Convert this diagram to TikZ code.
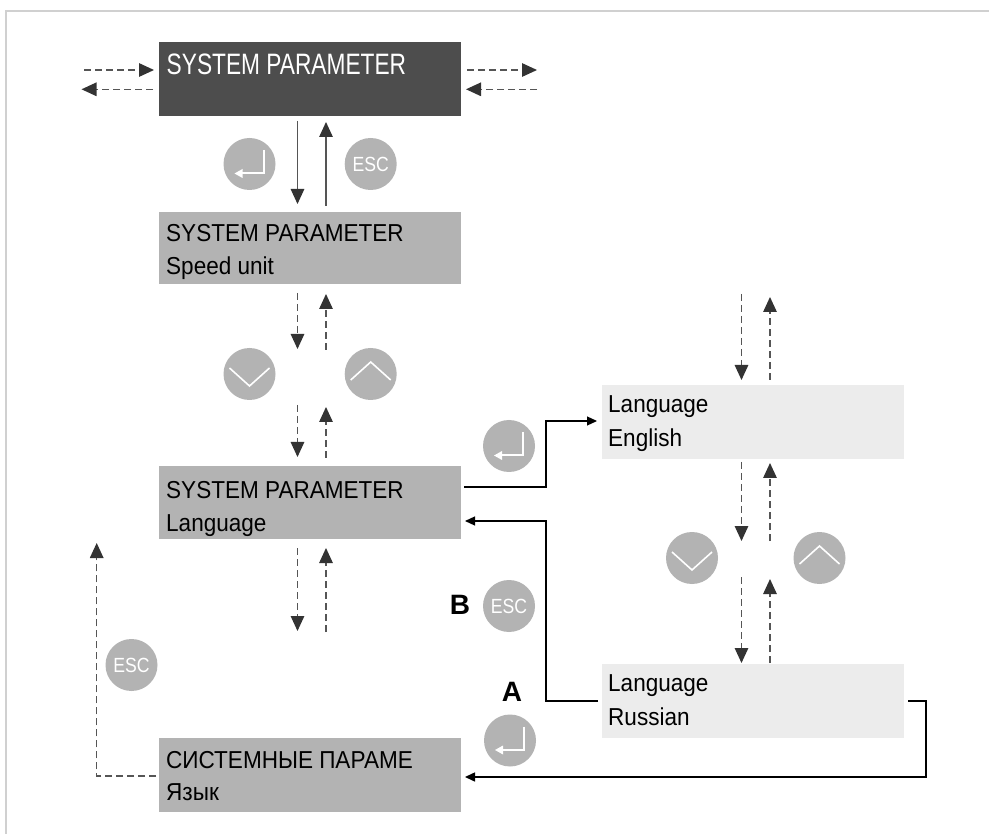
\documentclass[tikz,border=0pt]{standalone}
\usepackage{fontspec}
\setmainfont{Liberation Sans}
\newfontfamily\boxfont{Liberation Sans}[FakeStretch=0.92]
\newfontfamily\darkfont{Liberation Sans}[FakeStretch=0.77]
\newfontfamily\keyfont{Liberation Sans}[FakeStretch=0.86]
\usetikzlibrary{arrows.meta,calc}
\definecolor{darkfill}{HTML}{4D4D4D}
\definecolor{midfill}{HTML}{B3B3B3}
\definecolor{lightfill}{HTML}{ECECEC}
\definecolor{framec}{HTML}{D0D0D0}
\definecolor{linec}{HTML}{555555}
\definecolor{tipc}{HTML}{333333}
\newcommand\entericon[1]{%
  \begin{scope}[shift={(#1.center)}]
    \draw[icon] (14,-14) -- (14,9.5) -- (-8,9.5);
    \fill[white] (-15,9.5) -- (-7,5) -- (-7,14) -- cycle;
  \end{scope}}
\newcommand\downicon[1]{%
  \begin{scope}[shift={(#1.center)}]
    \draw[chev] (-20,-6) -- (0,12) -- (20,-6);
  \end{scope}}
\newcommand\upicon[1]{%
  \begin{scope}[shift={(#1.center)}]
    \draw[chev] (-20,6) -- (0,-12) -- (20,6);
  \end{scope}}
\begin{document}
\begin{tikzpicture}[x=1pt,y=-1pt,
  panel/.style={draw=none, minimum width=302pt, minimum height=74pt, inner sep=0pt, outer sep=0pt},
  darkpanel/.style={panel, fill=darkfill},
  midpanel/.style={panel, fill=midfill},
  lightpanel/.style={panel, fill=lightfill},
  txt/.style={anchor=base west, inner sep=0pt, font=\boxfont\fontsize{24.5}{30}\selectfont},
  keyc/.style={circle, fill=midfill, minimum size=52pt, inner sep=0pt},
  esckey/.style={keyc, text=white, font=\keyfont\fontsize{20.5}{22}\selectfont},
  solidarrow/.style={draw=linec, line width=1.3pt, -{Triangle[length=15pt,width=13.5pt,color=tipc]}},
  dashedarrow/.style={draw=linec, line width=1.3pt, dash pattern=on 7pt off 4pt, -{Triangle[length=15pt,width=13.5pt,color=tipc]}},
  conn/.style={draw=black, line width=1.2pt, -{Triangle[length=10pt,width=9pt]}},
  icon/.style={white, line width=2pt},
  chev/.style={white, line width=1.6pt},
  bigletter/.style={font=\bfseries\fontsize{28}{30}\selectfont, inner sep=0pt}
]
\useasboundingbox (0,0) rectangle (989,834);
\fill[white] (0,0) rectangle (989,834);
\draw[framec, line width=1.5pt] (6,834) -- (6,11) -- (989,11);

% panels
\node[darkpanel] (sys) at (310,79) {};
\node[txt, text=white, font=\darkfont\fontsize{29.5}{30}\selectfont] (systxt) at (166.5,74.3) {SYSTEM PARAMETER};
\node[midpanel, minimum height=72pt] (speed) at (310,248) {};
\node[txt] (speedt1) at (166,242) {SYSTEM PARAMETER};
\node[txt] (speedt2) at (166,275) {Speed unit};
\node[midpanel, minimum height=73pt] (lang) at (310,502.5) {};
\node[txt] (langt1) at (166,498) {SYSTEM PARAMETER};
\node[txt] (langt2) at (166,531.5) {Language};
\node[midpanel] (ru) at (310,775) {};
\node[txt] (rut1) at (166,768.3) {СИСТЕМНЫЕ ПАРАМЕ};
\node[txt] (rut2) at (166,800) {Язык};
\node[lightpanel] (en) at (753,422) {};
\node[txt] (ent1) at (608,413) {Language};
\node[txt] (ent2) at (608,446.5) {English};
\node[lightpanel] (rus) at (753,701) {};
\node[txt] (rust1) at (608,691.7) {Language};
\node[txt] (rust2) at (608,725) {Russian};

% keys
\node[keyc] (ent1k) at (249.5,164) {};
\entericon{ent1k}
\node[esckey] (esc1k) at (370.7,164) {ESC};
\node[keyc] (dn1k) at (249.5,374) {};
\downicon{dn1k}
\node[keyc] (up1k) at (370.7,374) {};
\upicon{up1k}
\node[keyc] (ent2k) at (509,446) {};
\entericon{ent2k}
\node[esckey] (esc2k) at (509,606) {ESC};
\node[keyc] (ent3k) at (510,740.5) {};
\entericon{ent3k}
\node[esckey] (esc3k) at (131.5,665) {ESC};
\node[keyc] (dn2k) at (692,558) {};
\downicon{dn2k}
\node[keyc] (up2k) at (819.5,558) {};
\upicon{up2k}

\node[bigletter] (B) at (460,605) {B};
\node[bigletter] (A) at (512,692) {A};

% side arrows of top panel
\coordinate (lin) at (84,70);
\coordinate (lout) at (81.5,89.3);
\coordinate (rout) at (537,70);
\coordinate (rin) at (537,89.3);
\draw[dashedarrow] (lin) -- ([xshift=-5pt]lin -| sys.west);
\draw[dashedarrow] ([xshift=-6pt]lout -| sys.west) -- (lout);
\draw[dashedarrow] ([xshift=6pt]rout -| sys.east) -- (rout);
\draw[dashedarrow] (rin) -- ([xshift=5pt]rin -| sys.east);

% left column verticals
\coordinate (cdn) at (297.5,0);
\coordinate (cup) at (326,0);
\draw[solidarrow] ([yshift=-5pt]sys.south -| cdn) -- ([yshift=8pt]speed.north -| cdn);
\draw[solidarrow] ([yshift=6pt]speed.north -| cup) -- ([yshift=-6pt]sys.south -| cup);

\coordinate (m1d) at (297.5,349);
\coordinate (m1u) at (326,350);
\draw[dashedarrow] ([yshift=-9pt]speed.south -| cdn) -- (m1d);
\draw[dashedarrow] (m1u) -- ([yshift=-10pt]speed.south -| cup);
\coordinate (m2d) at (297.5,405);
\coordinate (m2u) at (326,407);
\draw[dashedarrow] (m2d) -- ([yshift=9pt]lang.north -| cdn);
\draw[dashedarrow] ([yshift=8pt]lang.north -| cup) -- (m2u);
\coordinate (m3d) at (297.5,631);
\coordinate (m3u) at (326,632);
\draw[dashedarrow] ([yshift=-9pt]lang.south -| cdn) -- (m3d);
\draw[dashedarrow] (m3u) -- ([yshift=-9pt]lang.south -| cup);

% right column verticals
\coordinate (rdn) at (741.5,0);
\coordinate (rup) at (770,0);
\coordinate (t1d) at (741.5,294);
\coordinate (t1u) at (770,297);
\draw[dashedarrow] (t1d) -- ([yshift=5pt]en.north -| rdn);
\draw[dashedarrow] ([yshift=5pt]en.north -| rup) -- (t1u);
\coordinate (t2d) at (741.5,541);
\coordinate (t2u) at (770,463);
\draw[dashedarrow] ([yshift=-3pt]en.south -| rdn) -- (t2d);
\draw[dashedarrow] (t2d -| rup) -- (t2u);
\coordinate (t3d) at (741.5,577);
\coordinate (t3u) at (770,579);
\draw[dashedarrow] (t3d) -- ([yshift=1pt]rus.north -| rdn);
\draw[dashedarrow] ([yshift=1pt]rus.north -| rup) -- (t3u);

% connectors
\coordinate (j1) at (546,487);
\coordinate (j2) at (546,421);
\draw[conn] ([xshift=3pt]j1 -| lang.east) -- (j1) -- (j2) -- ([xshift=-5pt]j2 -| en.west);
\coordinate (j3) at (546,701);
\coordinate (j4) at (546,521);
\draw[conn] ([xshift=-4pt]j3 -| rus.west) -- (j3) -- (j4) -- ([xshift=4pt]j4 -| lang.east);
\coordinate (j5) at (926,701);
\coordinate (j6) at (926,777);
\draw[conn, line width=1.5pt] ([xshift=4pt]j5 -| rus.east) -- (j5) -- (j6) -- ([xshift=4pt]j6 -| ru.east);
\coordinate (j7) at (96.7,776);
\coordinate (j8) at (96.7,543);
\draw[dashedarrow] ([xshift=-3pt]j7 -| ru.west) -- (j7) -- (j8);
\end{tikzpicture}
\end{document}
